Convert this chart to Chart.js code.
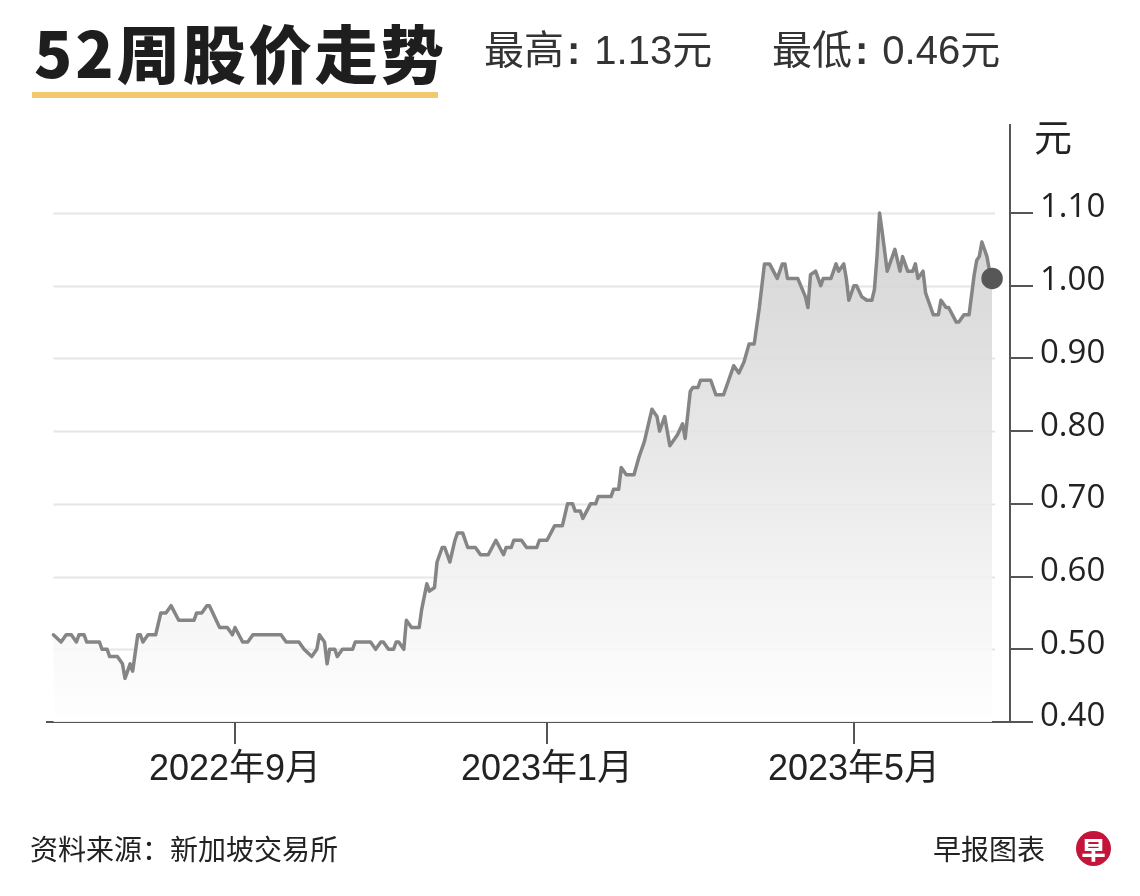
<!DOCTYPE html>
<html>
<head>
<meta charset="utf-8">
<script src="https://cdn.jsdelivr.net/npm/chart.js@4.4.1/dist/chart.umd.min.js"></script>
<style>
  body { margin: 0; background: #fff; }
  #wrap { position: relative; width: 1140px; height: 896px; overflow: hidden; font-family: "Liberation Sans", "Noto Sans CJK SC", sans-serif; color: #222; }
  #wrap canvas { position: absolute; left: 0; top: 0; }
  .txt { position: absolute; white-space: nowrap; }
  #title { left: 34px; top: 12px; font-family: "Noto Sans CJK SC", sans-serif; font-weight: 900; font-size: 63px; letter-spacing: 3px; line-height: 78px; color: #1e1e1e; }
  #bar { position: absolute; left: 32px; top: 92px; width: 406px; height: 6px; background: #f1c96b; }
  .sub { top: 24px; font-size: 40px; line-height: 52px; color: #333; }
  .sub b { font-weight: bold; margin: 0 14px 0 3px; }
  #unit { left: 1034px; top: 112px; font-family: "Noto Sans CJK SC", sans-serif; font-size: 38px; line-height: 46px; color: #222; }
  .foot { top: 830px; font-family: "Noto Sans CJK SC", sans-serif; font-size: 28px; line-height: 36px; color: #222; }
  #logo { position: absolute; left: 1076px; top: 831px; width: 35px; height: 35px; border-radius: 50%; background: #c4143a; color: #fff; font-family: "Noto Sans CJK SC", sans-serif; font-weight: 900; font-size: 24px; line-height: 35px; text-align: center; }
</style>
</head>
<body>
<div id="wrap">
  <canvas id="myChart" width="1140" height="896"></canvas>
  <div class="txt" id="title">52周股价走势</div>
  <div id="bar"></div>
  <div class="txt sub" style="left:484px">最高<b>:</b>1.13元</div>
  <div class="txt sub" style="left:772px">最低<b>:</b>0.46元</div>
  <div class="txt" id="unit">元</div>
  <div class="txt foot" style="left:30px">资料来源：新加坡交易所</div>
  <div class="txt foot" style="left:933px">早报图表</div>
  <div id="logo">早</div>
</div>
<script>
// days counted from 2022-06-22, closing price in 元
const days = [0,3,5,7,9,10,12,13,18,19,21,22,25,27,28,30,31,33,34,35,37,40,42,44,46,49,55,56,58,60,61,65,68,70,71,74,76,78,89,91,96,98,101,103,104,106,107,108,110,111,113,117,118,124,126,128,129,131,133,134,135,137,138,140,143,144,146,147,149,150,152,153,155,157,158,160,162,165,167,170,173,176,177,179,180,183,185,189,190,193,196,199,201,203,204,206,207,210,212,213,218,219,221,222,224,227,229,231,234,236,237,239,241,244,246,247,249,250,252,253,255,257,259,262,264,266,268,270,272,274,276,278,280,283,285,286,287,291,294,295,296,298,300,301,304,306,307,309,310,311,313,314,316,318,320,321,322,323,324,326,329,331,332,334,336,337,338,340,341,344,346,347,349,350,353,354,356,358,360,361,362,363,365,366,367];
const prices = [0.52,0.51,0.52,0.52,0.51,0.52,0.52,0.51,0.51,0.50,0.50,0.49,0.49,0.48,0.46,0.48,0.47,0.52,0.52,0.51,0.52,0.52,0.55,0.55,0.56,0.54,0.54,0.55,0.55,0.56,0.56,0.53,0.53,0.52,0.53,0.51,0.51,0.52,0.52,0.51,0.51,0.50,0.49,0.50,0.52,0.51,0.48,0.50,0.50,0.49,0.50,0.50,0.51,0.51,0.50,0.51,0.51,0.50,0.50,0.51,0.51,0.50,0.54,0.53,0.53,0.555,0.59,0.58,0.585,0.62,0.64,0.64,0.62,0.65,0.66,0.66,0.64,0.64,0.63,0.63,0.65,0.63,0.64,0.64,0.65,0.65,0.64,0.64,0.65,0.65,0.67,0.67,0.70,0.70,0.69,0.69,0.68,0.70,0.70,0.71,0.71,0.72,0.72,0.75,0.74,0.74,0.765,0.785,0.83,0.82,0.80,0.82,0.78,0.795,0.81,0.79,0.855,0.86,0.86,0.87,0.87,0.87,0.85,0.85,0.87,0.89,0.88,0.895,0.92,0.92,0.97,1.03,1.03,1.01,1.03,1.03,1.01,1.01,0.985,0.97,1.015,1.02,1.00,1.01,1.01,1.03,1.02,1.03,1.01,0.98,1.00,1.00,0.985,0.98,0.98,0.995,1.04,1.10,1.075,1.02,1.05,1.02,1.04,1.02,1.02,1.03,1.01,1.02,0.99,0.96,0.96,0.98,0.97,0.97,0.95,0.95,0.96,0.96,1.015,1.035,1.04,1.06,1.04,1.02,1.01];
const yTicks = [0.4, 0.5, 0.6, 0.7, 0.8, 0.9, 1.0, 1.1];
const xTickDays = [71, 193, 313];
const xTickLabels = ['2022年9月', '2023年1月', '2023年5月'];

// light horizontal grid, stops short of the right-hand axis
const gridPlugin = {
  id: 'shortGrid',
  beforeDatasetsDraw(chart) {
    const ctx = chart.ctx;
    const xs = chart.scales.x, ys = chart.scales.y;
    const x0 = xs.getPixelForValue(days[0]);
    const x1 = xs.getPixelForValue(days[days.length - 1]) + 3;
    ctx.save();
    ctx.strokeStyle = '#e6e6e6';
    ctx.lineWidth = 2;
    yTicks.slice(1).forEach(v => {
      const y = Math.round(ys.getPixelForValue(v)) + 0.5;
      ctx.beginPath();
      ctx.moveTo(x0, y);
      ctx.lineTo(x1, y);
      ctx.stroke();
    });
    ctx.restore();
  }
};

const ctx = document.getElementById('myChart').getContext('2d');
const lastIdx = days.length - 1;

const config = {
  type: 'line',
  data: {
    datasets: [{
      data: days.map((d, i) => ({ x: d, y: prices[i] })),
      borderColor: '#858585',
      borderWidth: 3.5,
      borderJoinStyle: 'round',
      borderCapStyle: 'round',
      tension: 0,
      fill: 'start',
      backgroundColor: (c) => {
        const area = c.chart.chartArea;
        if (!area) return 'rgba(0,0,0,0)';
        const g = c.chart.ctx.createLinearGradient(0, area.top + 80, 0, area.bottom);
        g.addColorStop(0, 'rgba(205,205,205,0.85)');
        g.addColorStop(1, 'rgba(255,255,255,0.9)');
        return g;
      },
      pointRadius: (c) => c.dataIndex === lastIdx ? 9 : 0,
      pointBackgroundColor: '#575757',
      pointBorderColor: '#575757',
      pointHoverRadius: 0
    }]
  },
  options: {
    responsive: false,
    devicePixelRatio: 1,
    animation: false,
    layout: { padding: { left: 47, top: 125, right: 0, bottom: 0 } },
    plugins: { legend: { display: false }, tooltip: { enabled: false } },
    scales: {
      x: {
        type: 'linear',
        min: -2.5,
        max: 374,
        afterBuildTicks: (s) => { s.ticks = xTickDays.map(v => ({ value: v })); },
        afterFit: (s) => { s.height = 174; },
        ticks: {
          autoSkip: false,
          maxRotation: 0,
          padding: 4,
          color: '#222',
          font: { family: '"Liberation Sans", "Noto Sans CJK SC"', size: 36 },
          callback: (v) => xTickLabels[xTickDays.indexOf(v)]
        },
        grid: { drawOnChartArea: false, drawTicks: true, tickLength: 22, color: '#555', lineWidth: 2 },
        border: { display: true, color: '#555', width: 2 }
      },
      y: {
        position: 'right',
        min: 0.4,
        max: 1.221,
        afterBuildTicks: (s) => { s.ticks = yTicks.map(v => ({ value: v })); },
        afterFit: (s) => { s.width = 130; },
        ticks: {
          padding: 7,
          labelOffset: -5,
          color: '#222',
          font: { family: '"Open Sans"', size: 33 },
          callback: (v) => v.toFixed(2)
        },
        grid: { drawOnChartArea: false, drawTicks: true, tickLength: 23, color: '#555', lineWidth: 2 },
        border: { display: true, color: '#555', width: 2 }
      }
    }
  },
  plugins: [gridPlugin]
};

var myChart = new Chart(ctx, config);
</script>
</body>
</html>
